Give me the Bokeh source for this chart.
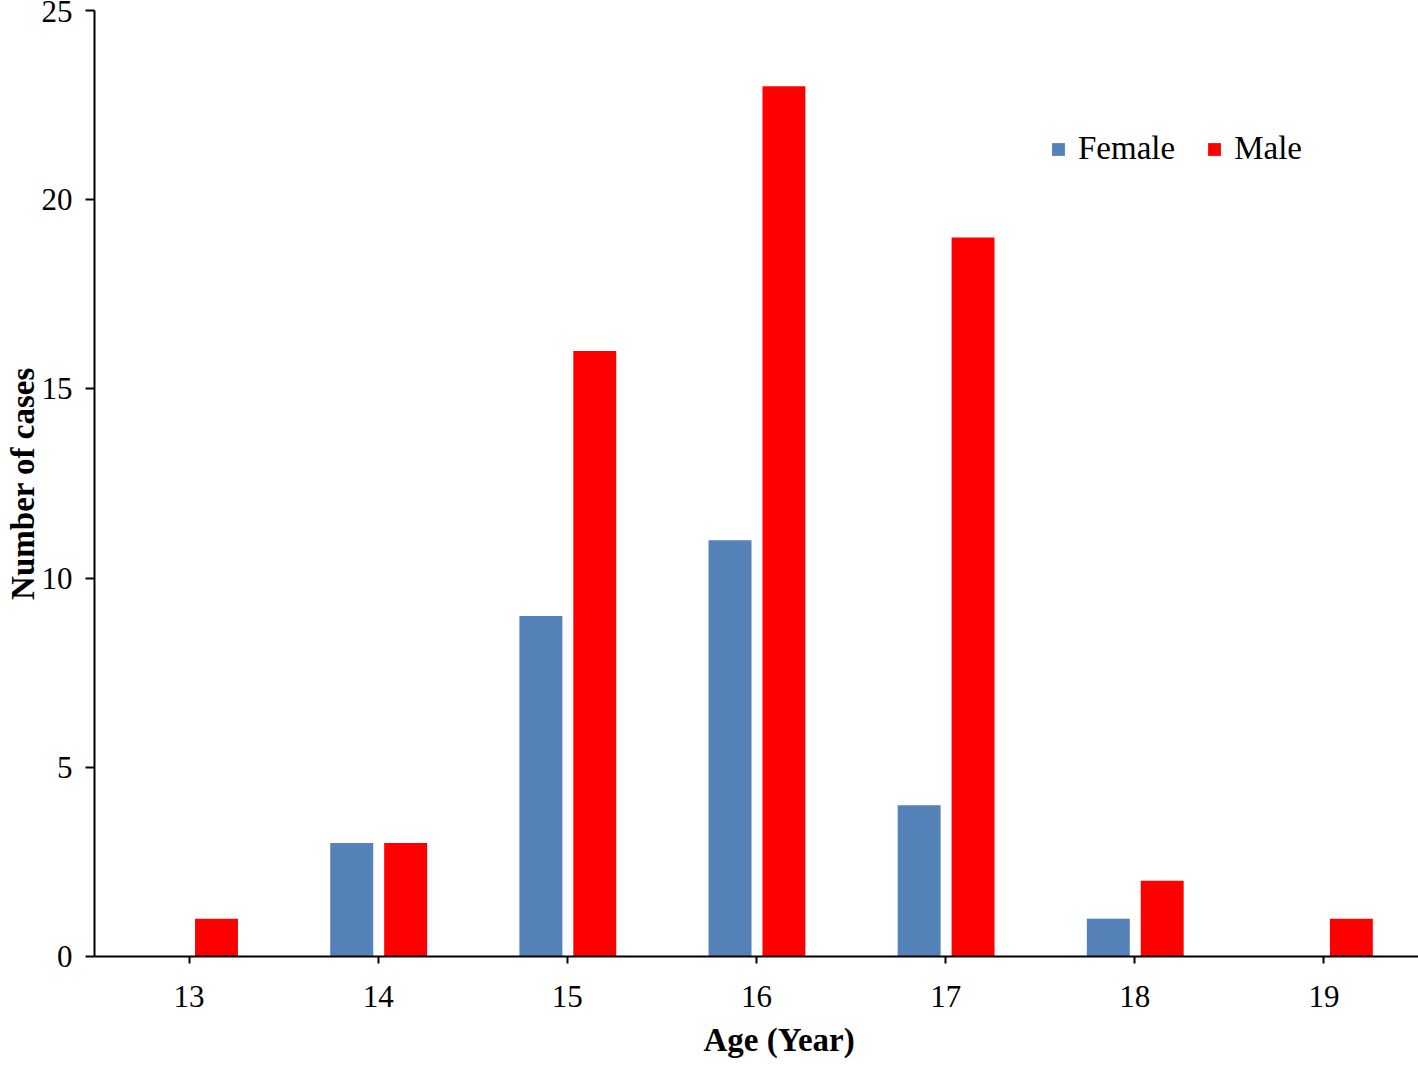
from bokeh.plotting import figure
from bokeh.models import FactorRange, Legend, LegendItem, Title, ColumnDataSource
from bokeh.transform import dodge
from bokeh.embed import file_html
from bokeh.resources import INLINE

ages = ["13", "14", "15", "16", "17", "18", "19"]
female = [0, 3, 9, 11, 4, 1, 0]
male = [1, 3, 16, 23, 19, 2, 1]
y_ticks = [0, 5, 10, 15, 20, 25]

FONT = "Liberation Serif"

src = ColumnDataSource(dict(age=ages, female=female, male=male))

p = figure(x_range=FactorRange(*ages, range_padding=0), y_range=(0, 25),
           width=1418, height=1068, output_backend="svg", toolbar_location=None,
           min_border_left=94, min_border_right=0, min_border_top=10, min_border_bottom=111)

fr = p.vbar(x=dodge("age", -0.14, range=p.x_range), top="female", width=0.227, source=src,
            fill_color="#4F81BD", line_color=None,
            hatch_pattern=".", hatch_color="#8C7F8F", hatch_alpha=0.5, hatch_scale=4, hatch_weight=1)
mr = p.vbar(x=dodge("age", 0.145, range=p.x_range), top="male", width=0.227, source=src,
            fill_color="#FF0000", line_color=None)

legend = Legend(items=[LegendItem(label="Female", renderers=[fr]),
                       LegendItem(label="Male", renderers=[mr])],
                orientation="horizontal", location=(956, 789),
                glyph_width=16, glyph_height=16, label_standoff=12, spacing=31,
                label_text_font=FONT, label_text_font_size="33px", label_text_color="black",
                border_line_color=None, background_fill_alpha=0, padding=4, margin=0)
p.add_layout(legend)

p.xgrid.visible = False
p.ygrid.visible = False
p.outline_line_color = None

for ax in (p.xaxis, p.yaxis):
    ax.major_tick_in = 0
    ax.axis_line_width = 2
    ax.major_tick_line_width = 2
    ax.axis_line_color = "black"
    ax.major_tick_line_color = "black"
    ax.major_label_text_font = FONT
    ax.major_label_text_font_size = "31px"
    ax.major_label_text_color = "black"

p.yaxis.ticker = y_ticks
p.yaxis.minor_tick_line_color = None
p.yaxis.major_tick_out = 9
p.yaxis.major_label_standoff = 13
p.yaxis.axis_label = "Number of cases"
p.yaxis.axis_label_text_font = FONT
p.yaxis.axis_label_text_font_size = "33px"
p.yaxis.axis_label_text_font_style = "bold"
p.yaxis.axis_label_text_color = "black"
p.yaxis.axis_label_standoff = -2

p.xaxis.major_tick_out = 7
p.xaxis.major_label_standoff = 22

p.add_layout(Title(text="Age (Year)", align="left", offset=609, standoff=21,
                   text_font=FONT, text_font_size="33px", text_font_style="bold",
                   text_color="black"), "below")

open("out.html", "w").write(file_html(p, INLINE))
